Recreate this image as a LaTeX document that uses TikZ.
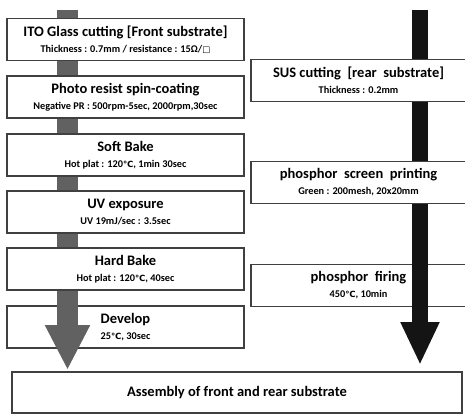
\documentclass[tikz,border=0pt]{standalone}
\usepackage{fontspec}
\setmainfont{Carlito}
\newfontfamily\symfont{DejaVu Sans}
\usetikzlibrary{arrows.meta}

\newcommand{\BoxW}{237pt}
\newcommand{\BoxH}{42pt}
\newcommand{\degC}{{\symfont\fontsize{8.5}{8.5}\selectfont ℃}}
\newcommand{\sqmark}{{\symfont\fontsize{8.5}{8.5}\selectfont □}}
\newcommand{\sub}[1]{{\fontsize{10.3}{16}\selectfont #1}}

\tikzset{
  procbox/.style={draw=black!75, line width=1.3pt, fill=white, inner sep=0pt,
    minimum width=\BoxW, minimum height=\BoxH, align=center,
    font=\bfseries\fontsize{14.5}{16}\selectfont},
  rearbox/.style={procbox, minimum width=215pt},
  flowarrow/.style={line width=#1},
}

\begin{document}
\begin{tikzpicture}[x=1pt,y=1pt]
\clip (0,0) rectangle (465,415);
\fill[white] (0,0) rectangle (465,415);

\coordinate (ltop) at (67.5,405);
\coordinate (lend) at (67.5,45);
\coordinate (rtop) at (420,405);
\coordinate (rend) at (420,50);

% boxes that sit under the arrows
\node[procbox] (develop) at (125.5,88) {Develop\\\sub{25\degC, 30sec}};
\node[rearbox] (firing) at (358.5,129.5) {phosphor~ firing\\\sub{450\degC, 10min}};

% the two process arrows
\draw[black!62, flowarrow=21pt, -{Triangle[width=42pt,length=45pt]}] (ltop) -- (lend);% front substrate
\draw[black!92, flowarrow=16pt, -{Triangle[width=36pt,length=43pt]}] (rtop) -- (rend);% rear substrate

% front substrate steps
\node[procbox] (ito) at (125.5,375.5) {ITO Glass cutting [Front substrate]\\\sub{Thickness : 0.7mm / resistance : 15Ω/\sqmark}};
\node[procbox] (resist) at (125.5,318) {Photo resist spin-coating\\\sub{Negative PR : 500rpm-5sec, 2000rpm,30sec}};
\node[procbox] (softbake) at (125.5,260) {Soft Bake\\\sub{Hot plat : 120\degC, 1min 30sec}};
\node[procbox] (uv) at (125.5,203) {UV exposure\\\sub{UV 19mJ/sec : 3.5sec}};
\node[procbox] (hardbake) at (125.5,146) {Hard Bake\\\sub{Hot plat : 120\degC, 40sec}};

% rear substrate steps
\node[rearbox] (sus) at (358.5,334.5) {SUS cutting~ [rear~ substrate]\\\sub{Thickness : 0.2mm}};
\node[rearbox] (screen) at (358.5,232.5) {phosphor~ screen~ printing\\\sub{Green : 200mesh, 20x20mm}};

% final step
\node[procbox, minimum width=450pt, minimum height=41pt] (assembly) at (237,22.5) {Assembly of front and rear substrate};
\end{tikzpicture}
\end{document}
